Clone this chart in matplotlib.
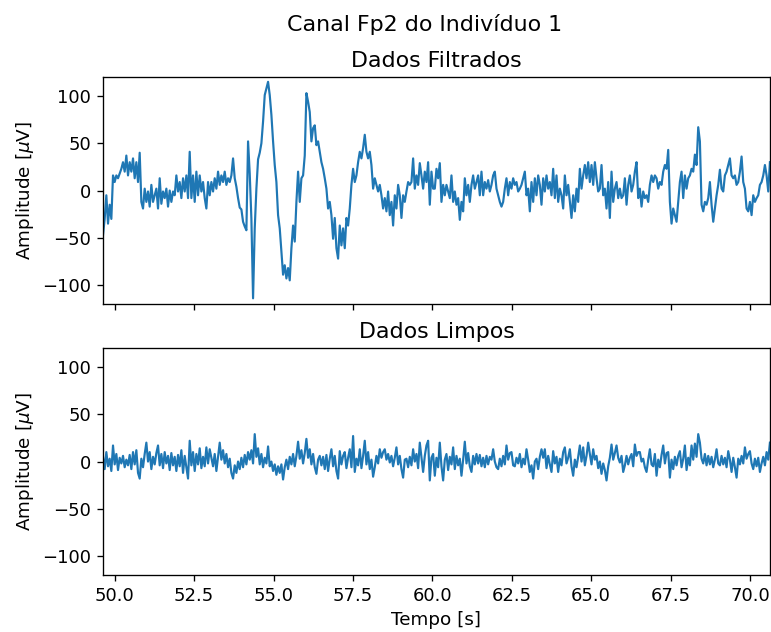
import matplotlib
matplotlib.use("Agg")
import matplotlib.pyplot as plt
import numpy as np

# sample grid of the recording (s)
t_start = 49.63
t_end = 70.63

filtrado_a = [
    -47, -30, -5, -35, -15, -30, 16, 9, 16, 13, 18, 23, 30, 20, 37, 16, 30, 20, 34, 13,
    30, 9, 40, -12, -19, 2, -12, -1, -17, 6, -12, -5, 2, -19, 13, -14, -1, -8, 2, -17,
    0, -12, -1, -5, 16, -1, 9, -8, 13, -1, 16, -8, 41, -8, 16, -12, 20, -5, 16, -1,
    9, -8, -19, 9, -5, 9, -1, 13, 2, 20, 6, 16, 9, 20, 6, 13, 9, 16, 34, 13,
    4, -8, -18, -20, -33, -38, -42, 52, 18, -30, -114, -40, 2, 33, 40, 50, 73, 101, 108, 115,
]
filtrado_b = [
    101, 80, 52, 27, 9, -26, -40, -65, -89, -79, -93, -82, -95, -61, -37, -54, -12, 20, -12, 13,
    16, 37, 103, 94, 83, 52, 66, 69, 48, 52, 41, 30, 23, 13, 2, -19, -12, -26, -51, -29,
    -61, -72, -37, -58, -40, -61, -29, -37, -19, 6, 23, 9, 16, 30, 41, 34, 45, 59, 41, 34,
    41, 27, 2, 13, 6, -1, 6, -5, -19, -8, -22, -1, -26, -12, -37, -5, -19, 6, -5, -29,
    -5, -12, -1, 9, 6, 9, 34, 2, 16, 6, 29, 16, 2, 20, 9, 30, -15, 20, 2,
]
filtrado_c = [
    2, 23, 13, 29, -12, 6, -5, 6, -1, -8, 16, -12, -1, -15, -8, -31, -12, -22, 13, -5,
    6, -12, 6, 16, 2, 9, 16, -5, 20, -5, 9, 2, 11, -1, 6, 16, 20, 2, -5, -12,
    -17, -12, 2, 13, -5, 9, 2, 13, 6, 9, -1, 2, 6, 13, 20, -5, 2, -22, 9, -12,
    13, -5, 16, 6, -15, 13, -1, 16, 2, 9, -5, 23, -8, 16, -12, 2, -5, -19, 16, -5,
    6, -12, -29, -5, -22, 2, -12, 23, 2, 16, 27, 13, 30, 9, 27, 6, 30, 13, -1,
]
filtrado_d = [
    2, 27, -5, 2, -19, 9, -29, 20, -12, 2, 9, -8, 2, -8, -5, 13, -15, 6, 16, -1,
    6, 20, 30, -8, 2, -17, -1, -8, -5, -12, 6, 16, 9, 16, 13, 2, 9, 6, 20, 27,
    23, 43, -12, -35, -19, -26, -33, -12, 9, 20, -8, 16, 2, 13, 16, 23, 20, 38, 27, 67,
    52, -15, -22, -12, -15, -8, 9, -15, -33, -19, -5, 6, 22, 2, -1, 16, 20, 27, 34, 16,
    13, 16, 6, 9, 20, 36, 9, 2, -19, -22, -12, -26, -5, -12, -8, -5, 6, 9, 16, 27,
    16, -1, 30,
]

# cleaned signal (uV), same grid
limpo_a = [
    5, -8, 10, -5, 3, -10, 17, -3, 8, -9, 4, -2, 6, -6, 2, -4, 7, -8, 10, -3,
    12, -12, -18, 3, -6, 8, 20, 0, 10, -8, 5, -3, 9, 17, -4, 8, -7, 10, -2, 6,
    -9, 9, -4, 5, -10, 7, -5, 12, -12, 6, -6, -18, 22, -4, 10, -10, 8, -3, 14, -7,
    5, -5, 15, -2, 13, 4,
]
limpo_b = [
    -5, 8, -10, 5, 20, 2, 12, -2, 8, -6, 3, -12, -18, -4, -12, 0, -8, 4, -6, 7,
    -3, 10, 2, 12, -2, 29, 5, 14, -3, 8, -6, 4, -2, 16, -5, 0, -10, -3, -14, -5,
    -12, -3, -19, -6, 2, -8, 5, -3, 8, -5, 6, 21, 3, 12, -2, 9, 24, 4, 13, -3,
    8, -6, -13, 2, 6, -4,
]
limpo_c = [
    5, -8, 7, -10, 3, 13, -5, 6, -10, -18, 11, -3, 6, 10, -7, 4, 13, -6, 27, -11,
    3, -4, 13, -7, 6, 22, -3, 10, -8, 2, -16, -6, 6, -2, 13, 4, 10, 13, 2, 8,
    -1, 6, -5, 4, 15, -3, 6, -8, -17, 2, 3, -6, 5, -4, 13, 0, 8, -7, 20, 5,
    -11, 6, 17, 22, -20, 4,
]
limpo_d = [
    8, -15, 4, -6, 20, -5, -20, 2, 8, -9, 5, -3, 15, -8, 6, -4, 3, -15, 2, 21,
    -2, 9, -5, -11, 6, -3, 8, -2, 7, -5, 4, -6, 6, -3, 5, 2, 13, 0, -6, -8,
    3, -5, 6, -3, 17, 2, 9, 10, -4, -5, 4, -2, 8, -6, 3, -3, 13, 2, -11, -4,
    -18, 0, 3, -8, 5, 13,
]
limpo_e = [
    4, 13, -7, 6, -3, -11, 11, -2, 5, -11, 3, -4, 10, 15, -2, 4, 13, -5, -15, 2,
    -6, 5, 17, 0, 15, -4, 6, 20, 8, -3, 13, 2, 6, -7, 0, -13, -2, -9, -20, -5,
    4, 18, 2, 9, 17, 4, -1, 6, -11, -4, 6, -3, 4, 8, -5, 18, 6, 10, 10, 0,
    3, -6, -11, 2, 13, -3,
]
limpo_f = [
    -5, 8, -15, 2, -6, 7, 17, -2, 9, 10, -17, 2, -8, 5, -4, 6, 11, -6, 3, 17,
    -9, 4, -4, 17, 2, 19, 5, 29, 20, 3, -2, 8, -4, 6, -3, 5, -6, 2, 13, -2,
    -4, 6, -3, 4, -6, 11, 2, -11, 4, -6, -17, 3, -3, 6, -2, 15, 3, 8, 11, -2,
    -8, 3, -5, 4, -11, -2, 5, -4, 10, 2, 20,
]

filtrado = np.array(filtrado_a + filtrado_b + filtrado_c + filtrado_d)
limpo = np.array(limpo_a + limpo_b + limpo_c + limpo_d + limpo_e + limpo_f)
tempo = np.linspace(t_start, t_end, len(filtrado))
tempo_limpo = np.linspace(t_start, t_end, len(limpo))

plt.rcParams["xtick.labelsize"] = 10.8
plt.rcParams["ytick.labelsize"] = 10.8
plt.rcParams["axes.labelsize"] = 11
plt.rcParams["axes.titlesize"] = 13.3

fig = plt.figure(figsize=(771 / 120, 632 / 120), dpi=120)
ax1 = fig.add_axes([0.1336, 0.519, 0.865, 0.359])
ax2 = fig.add_axes([0.1336, 0.0902, 0.865, 0.359], sharex=ax1)

ax1.plot(tempo, filtrado, color="#1f77b4", lw=1.3)
ax1.set_title("Dados Filtrados")
ax1.set_ylabel(r"Amplitude [$\mu$V]")
ax1.set_ylim(-120, 120)
ax1.tick_params(labelbottom=False)

ax2.plot(tempo_limpo, limpo, color="#1f77b4", lw=1.3)
ax2.set_title("Dados Limpos")
ax2.set_ylabel(r"Amplitude [$\mu$V]")
ax2.set_xlabel("Tempo [s]")
ax2.set_ylim(-120, 120)
ax2.set_xlim(t_start, t_end)

for ax in (ax1, ax2):
    ax.set_yticks([-100, -50, 0, 50, 100])
ax2.set_xticks(np.arange(50, 70.1, 2.5))

fig.suptitle("Canal Fp2 do Indivíduo 1", x=0.551, y=0.978, fontsize=13.3)

fig.savefig("out.png", dpi=120)
